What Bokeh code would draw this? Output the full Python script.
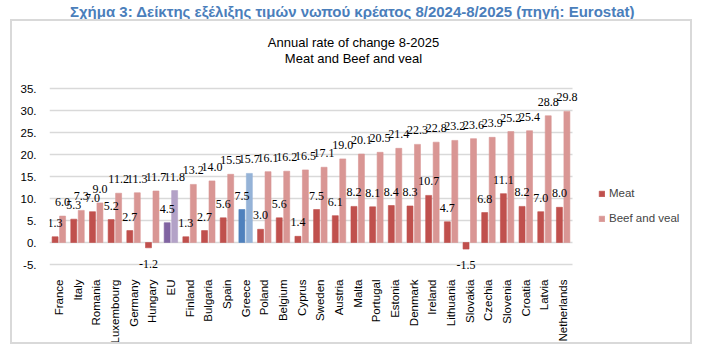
from bokeh.plotting import figure
from bokeh.models import (ColumnDataSource, Label, Legend, LegendItem, FixedTicker,
                          InlineStyleSheet)
from bokeh.embed import file_html
from bokeh.resources import INLINE

countries = ["France", "Italy", "Romania", "Luxembourg", "Germany", "Hungary", "EU",
             "Finland", "Bulgaria", "Spain", "Greece", "Poland", "Belgium", "Cyprus",
             "Sweden", "Austria", "Malta", "Portugal", "Estonia", "Denmark", "Ireland",
             "Lithuania", "Slovakia", "Czechia", "Slovenia", "Croatia", "Latvia", "Netherlands"]
meat = [1.3, 5.3, 7.0, 5.2, 2.7, -1.2, 4.5, 1.3, 2.7, 5.6, 7.5, 3.0, 5.6, 1.4,
        7.5, 6.1, 8.2, 8.1, 8.4, 8.3, 10.7, 4.7, -1.5, 6.8, 11.1, 8.2, 7.0, 8.0]
beef = [6.0, 7.3, 9.0, 11.2, 11.3, 11.7, 11.8, 13.2, 14.0, 15.5, 15.7, 16.1, 16.2, 16.5,
        17.1, 19.0, 20.1, 20.5, 21.4, 22.3, 22.8, 23.2, 23.6, 23.9, 25.2, 25.4, 28.8, 29.8]
y_ticks = [-5, 0, 5, 10, 15, 20, 25, 30, 35]
y_tick_labels = ["-5.", "0.", "5.", "10.", "15.", "20.", "25.", "30.", "35."]

MEAT_C, BEEF_C = "#C0504D", "#D99694"
special_meat = {"EU": "#8064A2", "Greece": "#4F81BD"}
special_beef = {"EU": "#B3A2C7", "Greece": "#95B3D7"}

n = len(countries)
FONT = "Liberation Sans"

meat_src = ColumnDataSource(dict(
    x=[i + 0.5 - 0.2 for i in range(n)], top=meat,
    color=[special_meat.get(c, MEAT_C) for c in countries],
    label=[f"{v:.1f}" for v in meat],
    yoff=[-14 if v >= 0 else 16 for v in meat]))
beef_src = ColumnDataSource(dict(
    x=[i + 0.5 + 0.2 for i in range(n)], top=beef,
    color=[special_beef.get(c, BEEF_C) for c in countries],
    label=[f"{v:.1f}" for v in beef],
    yoff=[-14 if v >= 0 else 16 for v in beef]))

W, H = 703, 354
# pixel geometry of the plotting area (gridlines span PL..PR, y: -5 at PB, 35 at PT)
PL, PR, PT, PB = 49, 572, 88, 264
FB = 272                       # frame bottom (a little below the -5 line)
xs = (PR - PL) / n              # px per category
ys = (PB - PT) / 40.0           # px per unit


def dx(sx):
    return (sx - PL) / xs


def dy(sy):
    return -5 + (PB - sy) / ys


p = figure(width=W, height=H, x_range=(0, dx(W)), y_range=(dy(FB), dy(0)),
           output_backend="svg", toolbar_location=None,
           min_border_left=PL, min_border_right=0,
           min_border_top=0, min_border_bottom=H - FB)
p.outline_line_color = None
p.background_fill_color = "white"
p.border_fill_color = "white"
p.stylesheets = [InlineStyleSheet(css=(
    ":host::after { content: ''; position: absolute; left: 10px; top: 19px; "
    "width: 682px; height: 325px; box-sizing: border-box; "
    "border: 2px solid #D9D9D9; pointer-events: none; }"))]

rm = p.vbar(x="x", top="top", bottom=0, width=0.32, source=meat_src,
            fill_color="color", line_color="color", line_alpha=0.6)
rb = p.vbar(x="x", top="top", bottom=0, width=0.32, source=beef_src,
            fill_color="color", line_color="color", line_alpha=0.6)

for src in (meat_src, beef_src):
    p.text(x="x", y="top", text="label", source=src, y_offset="yoff",
           text_align="center", text_baseline="middle",
           text_font_size="12px", text_font=FONT, text_color="#000000")

# axes
p.xaxis.ticker = FixedTicker(ticks=[i + 0.5 for i in range(n)])
p.xaxis.major_label_overrides = {i + 0.5: c for i, c in enumerate(countries)}
p.xaxis.major_label_orientation = 3.14159265 / 2
p.xaxis.major_label_text_font = FONT
p.xaxis.major_label_text_font_size = "11.5px"
p.xaxis.major_label_text_color = "#000000"
p.xaxis.major_label_standoff = 1
p.yaxis.ticker = FixedTicker(ticks=y_ticks)
p.yaxis.major_label_overrides = {t: l for t, l in zip(y_ticks, y_tick_labels)}
p.yaxis.major_label_text_font = FONT
p.yaxis.major_label_text_font_size = "11.5px"
p.yaxis.major_label_text_color = "#000000"
p.yaxis.major_label_standoff = 7
for ax in (p.xaxis, p.yaxis):
    ax.axis_line_color = None
    ax.major_tick_line_color = None
    ax.minor_tick_line_color = None
p.xgrid.grid_line_color = None
p.ygrid.ticker = FixedTicker(ticks=y_ticks)
p.ygrid.grid_line_color = "#D9D9D9"
p.ygrid.grid_line_width = 1.5
p.ygrid.cross_bounds = (0, n)

p.add_layout(Label(x=dx(352), y=dy(11),
                   text="Σχήμα 3: Δείκτης εξέλιξης τιμών νωπού κρέατος 8/2024-8/2025 (πηγή: Eurostat)",
                   text_align="center", text_baseline="middle", text_font=FONT,
                   text_font_size="15px", text_font_style="bold", text_color="#4A7EBB"))
p.add_layout(Label(x=dx(353), y=dy(42), text="Annual rate of change 8-2025",
                   text_align="center", text_baseline="middle", text_font=FONT,
                   text_font_size="13px", text_color="#000000"))
p.add_layout(Label(x=dx(353), y=dy(58), text="Meat and Beef and veal",
                   text_align="center", text_baseline="middle", text_font=FONT,
                   text_font_size="13px", text_color="#000000"))

legend = Legend(items=[LegendItem(label="Meat", renderers=[rm]),
                       LegendItem(label="Beef and veal", renderers=[rb])],
                location=(598 - PL, FB - 228), padding=0, spacing=5,
                glyph_width=7, glyph_height=7, label_height=20, label_standoff=4,
                label_text_font=FONT, label_text_font_size="11.5px",
                border_line_color=None, background_fill_alpha=0)
p.add_layout(legend)

open("out.html", "w").write(file_html(p, INLINE))
